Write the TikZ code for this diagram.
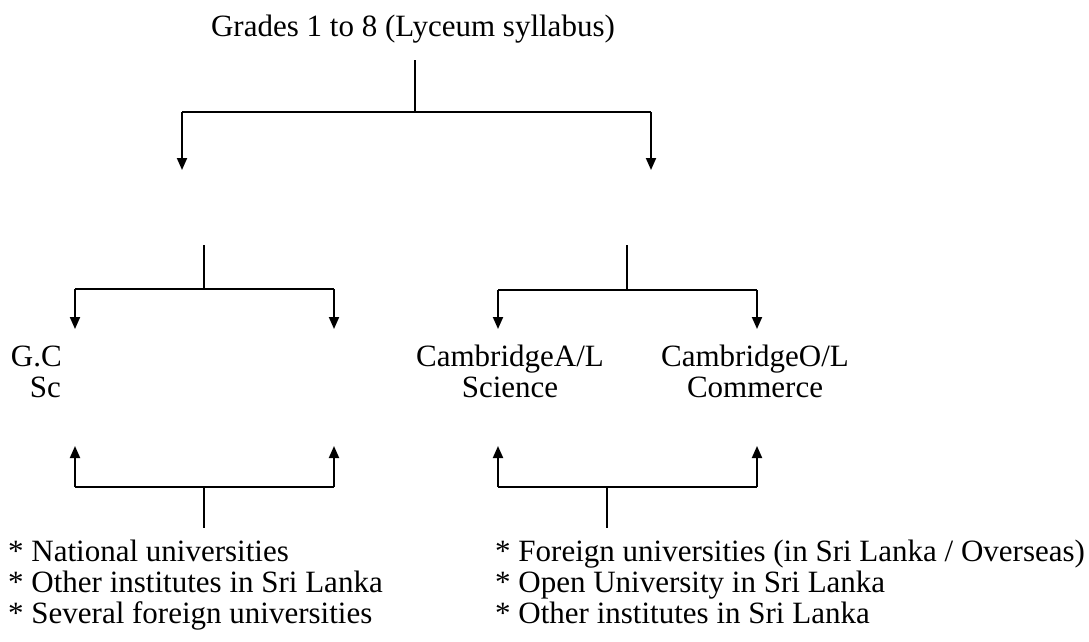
\documentclass[tikz,border=0pt]{standalone}
\usepackage{fontspec}
\setmainfont{Liberation Serif}
\usetikzlibrary{arrows.meta}
\begin{document}
\begin{tikzpicture}[x=1pt,y=-1pt,
  txt/.style={font=\fontsize{31}{33}\selectfont, inner sep=0pt},
  conn/.style={line width=1.2pt},
  arr/.style={line width=1.9pt,-{Triangle[width=10pt,length=12pt]}}]
\useasboundingbox (0,0) rectangle (1089,641);
\node[txt, anchor=base] (title) at (413,36) {Grades 1 to 8 (Lyceum syllabus)};
\coordinate (t1) at (415,60);
\coordinate (t2) at (415,112);
\coordinate (tl) at (182,112);
\coordinate (tr) at (651,112);
\coordinate (al) at (182,170);
\coordinate (ar) at (651,170);
\draw[conn] (t1) -- (t2);
\draw[conn] (tl) -- (tr);
\draw[arr] (tl) -- (al);
\draw[arr] (tr) -- (ar);
% second level left
\coordinate (l1) at (204,245);
\coordinate (l2) at (204,289);
\coordinate (ll) at (75,289);
\coordinate (lr) at (334,289);
\coordinate (lla) at (75,329);
\coordinate (lra) at (334,329);
\draw[conn] (l1) -- (l2);
\draw[conn] (ll) -- (lr);
\draw[arr] (ll) -- (lla);
\draw[arr] (lr) -- (lra);
% second level right
\coordinate (r1) at (627,245);
\coordinate (r2) at (627,290);
\coordinate (rl) at (498,290);
\coordinate (rr) at (757,290);
\coordinate (rla) at (498,329);
\coordinate (rra) at (757,329);
\draw[conn] (r1) -- (r2);
\draw[conn] (rl) -- (rr);
\draw[arr] (rl) -- (rla);
\draw[arr] (rr) -- (rra);
% labels
\node[txt, anchor=base east] (gc1) at (62,366) {G.C};
\node[txt, anchor=base east] (gc2) at (61,397) {Sc};
\node[txt, anchor=base] (cal1) at (510,366) {CambridgeA/L};
\node[txt, anchor=base] (cal2) at (510,397) {Science};
\node[txt, anchor=base] (col1) at (755,366) {CambridgeO/L};
\node[txt, anchor=base] (col2) at (755,397) {Commerce};
% bottom left
\coordinate (bl) at (75,487);
\coordinate (br) at (334,487);
\coordinate (bla) at (75,446);
\coordinate (bra) at (334,446);
\coordinate (bs1) at (204,487);
\coordinate (bs2) at (204,528);
\draw[conn] (bl) -- (br);
\draw[conn] (bs1) -- (bs2);
\draw[arr] (bl) -- (bla);
\draw[arr] (br) -- (bra);
% bottom right
\coordinate (cl) at (498,487);
\coordinate (cr) at (757,487);
\coordinate (cla) at (498,446);
\coordinate (cra) at (757,446);
\coordinate (cs1) at (607,487);
\coordinate (cs2) at (607,528);
\draw[conn] (cl) -- (cr);
\draw[conn] (cs1) -- (cs2);
\draw[arr] (cl) -- (cla);
\draw[arr] (cr) -- (cra);
% lists
\node[txt, anchor=base west] (ll1) at (8,561) {* National universities};
\node[txt, anchor=base west] (ll2) at (8,592) {* Other institutes in Sri Lanka};
\node[txt, anchor=base west] (ll3) at (8,623) {* Several foreign universities};
\node[txt, anchor=base west] (rl1) at (495,561) {* Foreign universities (in Sri Lanka / Overseas)};
\node[txt, anchor=base west] (rl2) at (495,592) {* Open University in Sri Lanka};
\node[txt, anchor=base west] (rl3) at (495,623) {* Other institutes in Sri Lanka};
\end{tikzpicture}
\end{document}
